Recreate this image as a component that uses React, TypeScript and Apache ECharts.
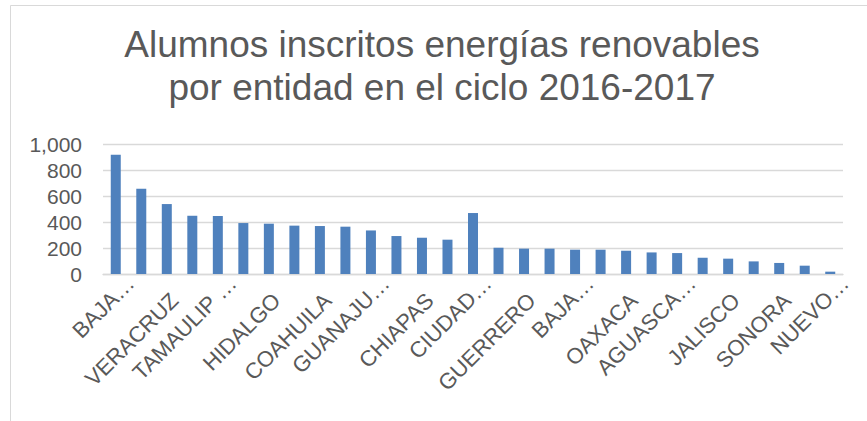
import React, { useEffect, useRef } from "react";
import * as echarts from "echarts";

const categories = [
  "BAJA CALIFORNIA", "PUEBLA", "VERACRUZ", "MÉXICO", "TAMAULIPAS", "SAN LUIS POTOSÍ",
  "HIDALGO", "CHIHUAHUA", "COAHUILA", "MICHOACÁN", "GUANAJUATO", "ZACATECAS",
  "CHIAPAS", "QUERÉTARO", "CIUDAD DE MÉXICO", "DURANGO", "GUERRERO", "TABASCO",
  "BAJA CALIFORNIA SUR", "SINALOA", "OAXACA", "MORELOS", "AGUASCALIENTES", "YUCATÁN",
  "JALISCO", "QUINTANA ROO", "SONORA", "CAMPECHE", "NUEVO LEÓN",
];

// Labels Excel truncated (wrapped) with an ellipsis
const truncatedLabels = [
  "BAJA…", "", "", "", "TAMAULIP …", "", "", "", "", "",
  "GUANAJU…", "", "", "", "CIUDAD…", "", "", "", "BAJA…", "",
  "", "", "AGUASCA…", "", "", "", "", "", "NUEVO…",
];

// Labels shown in full
const fullLabels = [
  "", "", "VERACRUZ", "", "", "", "HIDALGO", "", "COAHUILA", "",
  "", "", "CHIAPAS", "", "", "", "GUERRERO", "", "", "",
  "OAXACA", "", "", "", "JALISCO", "", "SONORA", "", "",
];

const alumnos = [
  918, 656, 538, 448, 446, 392, 387, 372, 369, 364, 335, 292, 279, 264, 469,
  202, 195, 195, 187, 187, 179, 166, 161, 125, 118, 97, 85, 64, 18,
];

const titleText = "Alumnos inscritos energías renovables\npor entidad en el ciclo 2016-2017";

export default function App() {
  const ref = useRef<HTMLDivElement>(null);
  useEffect(() => {
    if (!ref.current) return;
    const chart = echarts.init(ref.current, undefined, { renderer: "svg" });
    const font = "'Liberation Sans', Arial, sans-serif";
    const labelBase = {
      interval: 0,
      rotate: 45,
      fontSize: 22,
      color: "#595959",
      fontFamily: font,
      verticalAlign: "top",
    };
    chart.setOption({
      animation: false,
      backgroundColor: "#ffffff",
      textStyle: { fontFamily: font },
      graphic: [
        {
          type: "rect",
          shape: { x: 10.5, y: 5.5, width: 900, height: 500 },
          style: { fill: "none", stroke: "#d9d9d9", lineWidth: 1 },
          silent: true,
        },
        {
          type: "text",
          x: 442,
          y: 23,
          style: {
            text: titleText,
            fontFamily: font,
            fontSize: 37,
            lineHeight: 43,
            fill: "#595959",
            align: "center",
            verticalAlign: "top",
          },
        },
      ],
      grid: { left: 103, right: 24, top: 144, bottom: 147 },
      xAxis: [
        {
          type: "category",
          data: categories,
          position: "bottom",
          axisLine: { show: true, lineStyle: { color: "#d9d9d9", width: 1.3 } },
          axisTick: { show: false },
          axisLabel: {
            ...labelBase,
            margin: 5,
            padding: [0, -10, 0, 0],
            formatter: (_v: string, i: number) => truncatedLabels[i],
          },
        },
        {
          type: "category",
          data: categories,
          position: "bottom",
          axisLine: { show: false },
          axisTick: { show: false },
          splitLine: { show: false },
          axisLabel: {
            ...labelBase,
            margin: 15,
            padding: [0, 0, 0, 0],
            formatter: (_v: string, i: number) => fullLabels[i],
          },
        },
      ],
      yAxis: {
        type: "value",
        min: 0,
        max: 1000,
        interval: 200,
        axisLine: { show: false },
        axisTick: { show: false },
        splitLine: { lineStyle: { color: "#d9d9d9", width: 1.3 } },
        axisLabel: {
          margin: 21,
          fontSize: 21,
          color: "#595959",
          fontFamily: font,
          formatter: (v: number) => v.toLocaleString("en-US"),
        },
      },
      series: [
        {
          type: "bar",
          xAxisIndex: 0,
          data: alumnos,
          barWidth: 10,
          itemStyle: { color: "#4f81bd" },
        },
      ],
    });
    return () => chart.dispose();
  }, []);
  return (
    <div
      ref={ref}
      style={{ position: "fixed", left: 0, top: 0, width: 867, height: 421 }}
    />
  );
}
